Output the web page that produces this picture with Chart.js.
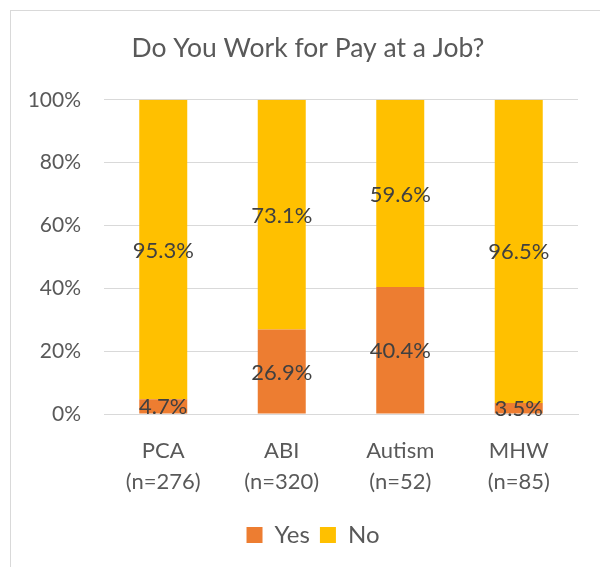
<!DOCTYPE html>
<html>
<head>
<meta charset="utf-8">
<title>Do You Work for Pay at a Job?</title>
<script src="https://cdn.jsdelivr.net/npm/chart.js@4/dist/chart.umd.min.js"></script>
<style>
  html, body { margin: 0; padding: 0; background: #fff; }
  #wrap { width: 600px; height: 567px; }
</style>
</head>
<body>
<div id="wrap"><canvas id="payChart" width="600" height="567"></canvas></div>
<script>
const groups = [["PCA", "(n=276)"], ["ABI", "(n=320)"], ["Autism", "(n=52)"], ["MHW", "(n=85)"]];
const yesPct = [4.7, 26.9, 40.4, 3.5];
const noPct = [95.3, 73.1, 59.6, 96.5];
const yTicks = [0, 20, 40, 60, 80, 100];

const FONT = "Lato, 'Open Sans', sans-serif";

// light frame around the chart, open on the right and bottom
const framePlugin = {
  id: "frame",
  beforeDraw(chart) {
    const ctx = chart.ctx;
    ctx.save();
    ctx.fillStyle = "#fff";
    ctx.fillRect(0, 0, chart.width, chart.height);
    ctx.strokeStyle = "#d9d9d9";
    ctx.lineWidth = 1;
    ctx.strokeRect(10.5, 10.5, 800, 800);
    ctx.restore();
  }
};

// title and legend sit a little right of the canvas centre
const nudgeBoxes = {
  id: "nudgeBoxes",
  afterLayout(chart) {
    chart.titleBlock.left += 9;
    chart.titleBlock.right += 9;
    chart.legend.left += 14;
    chart.legend.right += 14;
  }
};

// value label in the middle of each stacked segment
const segmentLabels = {
  id: "segmentLabels",
  afterDatasetsDraw(chart) {
    const ctx = chart.ctx;
    ctx.save();
    ctx.font = "22px " + FONT;
    ctx.fillStyle = "#404040";
    ctx.textAlign = "center";
    ctx.textBaseline = "middle";
    chart.data.datasets.forEach((ds, i) => {
      chart.getDatasetMeta(i).data.forEach((bar, j) => {
        const { x, y, base } = bar.getProps(["x", "y", "base"], true);
        ctx.fillText(ds.data[j].toFixed(1) + "%", x, (y + base) / 2 + 1);
      });
    });
    ctx.restore();
  }
};

new Chart(document.getElementById("payChart"), {
  type: "bar",
  data: {
    labels: groups,
    datasets: [
      { label: "Yes", data: yesPct, backgroundColor: "#ED7D31", barPercentage: 0.405, categoryPercentage: 1 },
      { label: "No", data: noPct, backgroundColor: "#FFC000", barPercentage: 0.405, categoryPercentage: 1 }
    ]
  },
  options: {
    responsive: false,
    animation: false,
    events: [],
    layout: { padding: { left: 20, right: 22, top: 0, bottom: 10 } },
    plugins: {
      title: {
        display: true,
        text: "Do You Work for Pay at a Job?",
        color: "#595959",
        font: { family: FONT, size: 26.5, weight: "normal", lineHeight: 1.2 },
        padding: { top: 33, bottom: 35 }
      },
      legend: {
        position: "bottom",
        labels: {
          color: "#595959",
          font: { family: FONT, size: 24 },
          boxWidth: 16,
          boxHeight: 16,
          padding: 10
        }
      },
      tooltip: { enabled: false }
    },
    scales: {
      x: {
        stacked: true,
        grid: { display: false },
        border: { color: "#d9d9d9" },
        ticks: {
          color: "#595959",
          font: { family: FONT, size: 22, lineHeight: 1.38 },
          padding: 14,
          maxRotation: 0
        },
        afterFit(scale) { scale.height = 99; }
      },
      y: {
        stacked: true,
        min: 0,
        max: 100,
        afterBuildTicks(scale) { scale.ticks = yTicks.map(v => ({ value: v })); },
        grid: { color: "#d9d9d9", drawTicks: false },
        border: { display: false },
        ticks: {
          color: "#595959",
          font: { family: FONT, size: 21 },
          padding: 23,
          callback: v => v + "%"
        },
        afterFit(scale) { scale.width = 84; }
      }
    }
  },
  plugins: [framePlugin, nudgeBoxes, segmentLabels]
});
</script>
</body>
</html>
